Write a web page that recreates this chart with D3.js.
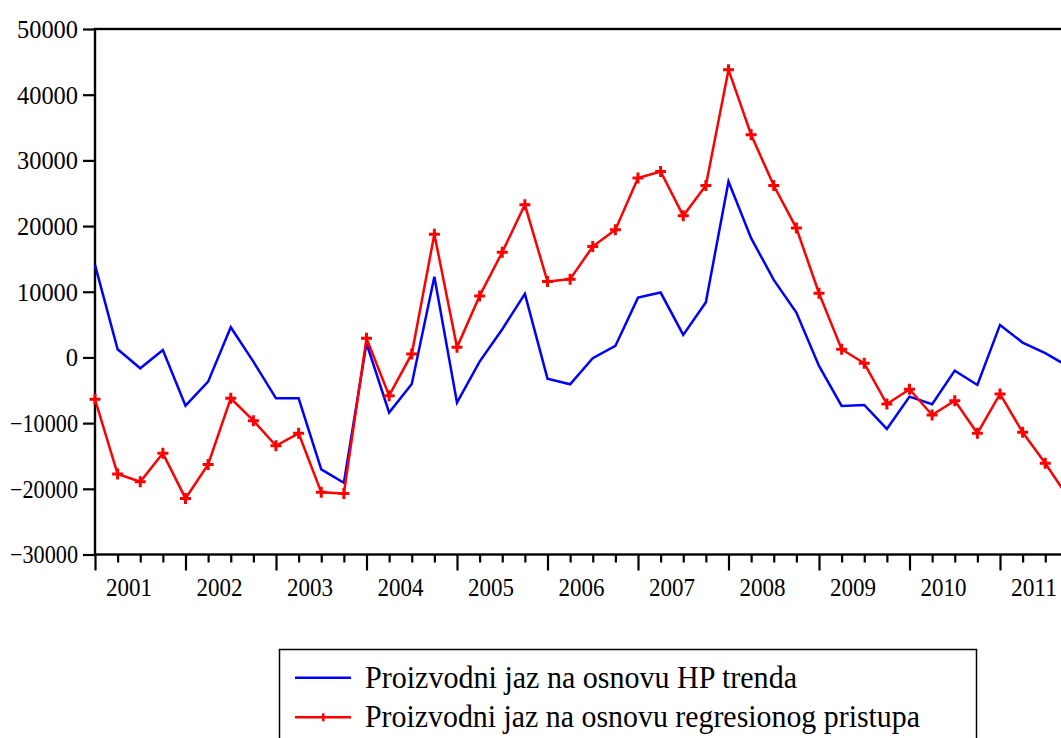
<!DOCTYPE html>
<html>
<head>
<meta charset="utf-8">
<script src="https://cdn.jsdelivr.net/npm/d3@7"></script>
<style>
  html, body { margin: 0; padding: 0; background: #fff; overflow: hidden; }
  svg { display: block; }
  text { font-family: "Liberation Serif", "Times New Roman", serif; fill: #000; }
</style>
</head>
<body>
<div id="chart"></div>
<script>
// Output gap, quarterly 2001Q1 - 2011Q4
const years = [2001, 2002, 2003, 2004, 2005, 2006, 2007, 2008, 2009, 2010, 2011];
const periods = years.flatMap(y => ["Q1", "Q2", "Q3", "Q4"].map(q => y + q));

const hpGap = [
    14100, 1250, -1650, 1140, -7340, -3680, 4600, -640, -6220, -6220, -17040, -19070,
    2160, -8400, -4040, 12270, -6880, -640, 4300, 9680, -3230, -4090, -120, 1750,
    9110, 9880, 3430, 8410, 26790, 18160, 11810, 6830, -1300, -7390, -7240, -10890,
    -5970, -7130, -2010, -4190, 4950, 2260, 640, -1340
];
const regGap = [
    -6370, -17750, -18920, -14600, -21460, -16280, -6220, -9630, -13440, -11550, -20540, -20700,
    2920, -5820, 530, 18770, 1550, 9370, 16030, 23240, 11550, 11920, 16880, 19430,
    27300, 28310, 21560, 26180, 43810, 33900, 26180, 19690, 9780, 1250, -890, -7090,
    -4850, -8760, -6580, -11550, -5560, -11400, -16120, -21240
];
const yTicks = [-30000, -20000, -10000, 0, 10000, 20000, 30000, 40000, 50000];
const seriesNames = [
    "Proizvodni jaz na osnovu HP trenda",
    "Proizvodni jaz na osnovu regresionog pristupa"
];

const width = 1061, height = 738;
const plotLeft = 95, plotTop = 29, plotBottom = 554.5;
const step = 22.625;
const plotRight = plotLeft + step * (periods.length - 1);

const svg = d3.select("#chart").append("svg")
    .attr("width", width)
    .attr("height", height);

const x = d3.scaleLinear().domain([0, periods.length - 1]).range([plotLeft, plotRight]);
const y = d3.scaleLinear().domain([-30000, 50000]).range([plotBottom, plotTop]);

// frame
svg.append("rect")
    .attr("x", plotLeft).attr("y", plotTop)
    .attr("width", plotRight - plotLeft).attr("height", plotBottom - plotTop)
    .attr("fill", "none").attr("stroke", "#000").attr("stroke-width", 2.4);

// y axis
const yAxis = svg.append("g")
    .attr("transform", `translate(${plotLeft},0)`)
    .call(d3.axisLeft(y).tickValues(yTicks).tickFormat(d3.format("d")).tickSize(12).tickSizeOuter(0).tickPadding(5));
yAxis.select(".domain").remove();
yAxis.selectAll(".tick line").attr("stroke-width", 2.2);
yAxis.selectAll(".tick text")
    .attr("font-size", 25.5)
    .attr("dy", "0.33em")
    .attr("textLength", d => d === 0 ? 12.3 : (d < 0 ? 68 : 61))
    .attr("lengthAdjust", "spacingAndGlyphs")
    .style("font-family", "'Liberation Serif', serif");

// x axis: ticks at every quarter, longer at Q1
const xAxis = svg.append("g")
    .attr("transform", `translate(0,${plotBottom})`)
    .call(d3.axisBottom(x).tickValues(d3.range(periods.length)).tickSize(8).tickSizeOuter(0).tickFormat(""));
xAxis.select(".domain").remove();
xAxis.selectAll(".tick line")
    .attr("stroke-width", 2.2)
    .attr("y2", d => periods[d].endsWith("Q1") ? 16 : 8);

svg.append("g").selectAll("text")
    .data(years)
    .join("text")
    .attr("x", (d, i) => x(i * 4 + 1.5))
    .attr("y", 596)
    .attr("text-anchor", "middle")
    .attr("font-size", 24.5)
    .attr("textLength", 46)
    .attr("lengthAdjust", "spacingAndGlyphs")
    .text(d => d);

// lines
const line = d3.line().x((d, i) => x(i)).y(d => y(d));

svg.append("path")
    .datum(hpGap)
    .attr("d", line)
    .attr("fill", "none")
    .attr("stroke", "#0000ff")
    .attr("stroke-width", 2.5);

svg.append("path")
    .datum(regGap)
    .attr("d", line)
    .attr("fill", "none")
    .attr("stroke", "#ff0000")
    .attr("stroke-width", 2.5);

const s = 5.5;
svg.append("g").selectAll("path")
    .data(regGap)
    .join("path")
    .attr("d", (d, i) => `M${x(i) - s},${y(d)}H${x(i) + s}M${x(i)},${y(d) - s}V${y(d) + s}`)
    .attr("stroke", "#ff0000")
    .attr("stroke-width", 3)
    .attr("fill", "none");

// legend
const legend = svg.append("g");
legend.append("rect")
    .attr("x", 279.5).attr("y", 649.5)
    .attr("width", 697).attr("height", 120)
    .attr("fill", "#fff").attr("stroke", "#000").attr("stroke-width", 1.5);

const rows = [
    { name: seriesNames[0], color: "#0000ff", marker: false, cy: 677.7, base: 688.3, w: 432 },
    { name: seriesNames[1], color: "#ff0000", marker: true, cy: 717.3, base: 727.3, w: 555 }
];
rows.forEach(r => {
    legend.append("line")
        .attr("x1", 295).attr("x2", 351)
        .attr("y1", r.cy).attr("y2", r.cy)
        .attr("stroke", r.color).attr("stroke-width", 2.5);
    if (r.marker) {
        legend.append("line")
            .attr("x1", 323.3).attr("x2", 323.3)
            .attr("y1", r.cy - 4).attr("y2", r.cy + 4)
            .attr("stroke", r.color).attr("stroke-width", 2.5);
    }
    legend.append("text")
        .attr("x", 365).attr("y", r.base)
        .attr("font-size", 32)
        .attr("textLength", r.w)
        .attr("lengthAdjust", "spacingAndGlyphs")
        .text(r.name);
});
</script>
</body>
</html>
